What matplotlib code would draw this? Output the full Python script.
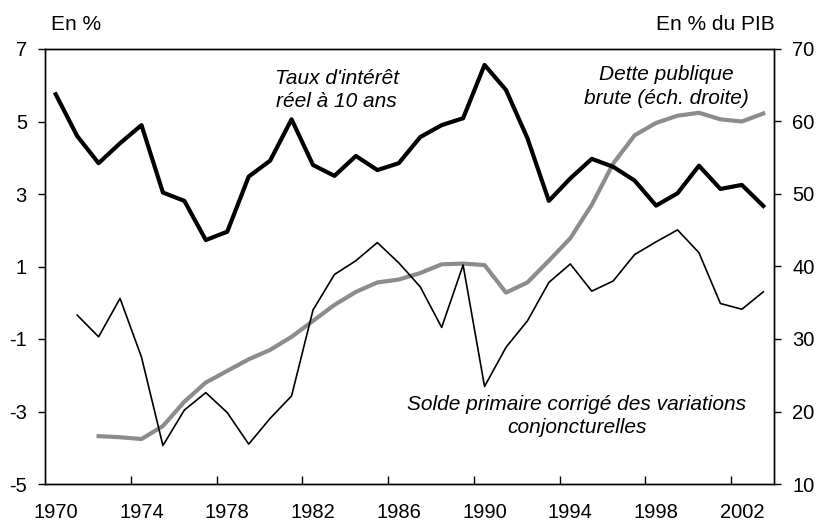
import matplotlib.pyplot as plt
import numpy as np

plt.rcParams['font.family'] = ['Liberation Sans', 'DejaVu Sans']

years = np.arange(1970, 2004)

# real 10-year interest rate, left axis (%)
taux = [5.75, 4.6, 3.85, 4.4, 4.9, 3.04, 2.81, 1.73, 1.96, 3.48,
        3.92, 5.06, 3.8, 3.5, 4.05, 3.66, 3.85, 4.57, 4.9, 5.09,
        6.56, 5.87, 4.54, 2.81, 3.43, 3.97, 3.75, 3.37, 2.68, 3.02,
        3.78, 3.14, 3.25, 2.67]

# cyclically adjusted primary balance, left axis (%), from 1971
solde_years = np.arange(1971, 2004)
solde = [-0.34, -0.94, 0.12, -1.5, -3.94, -2.96, -2.48, -3.03, -3.9,
         -3.19, -2.57, -0.2, 0.78, 1.16, 1.66, 1.1, 0.44, -0.68, 1.04,
         -2.31, -1.23, -0.5, 0.56, 1.07, 0.32, 0.6, 1.33, 1.68, 2.01,
         1.38, -0.02, -0.18, 0.3]

# gross public debt, right axis (% of GDP), from 1972
dette_years = np.arange(1972, 2004)
dette = [16.6, 16.45, 16.2, 18.0, 21.35, 24.0, 25.6, 27.2, 28.5, 30.3,
         32.5, 34.7, 36.5, 37.8, 38.2, 39.1, 40.3, 40.4, 40.2, 36.4,
         37.8, 40.8, 43.9, 48.5, 54.2, 58.1, 59.8, 60.8, 61.2, 60.3,
         60.0, 61.1]

fig = plt.figure(figsize=(8.19, 5.25), dpi=100)
ax = fig.add_axes([45 / 819, 1 - 484 / 525, (774 - 45) / 819, (484 - 49) / 525])
ax2 = ax.twinx()

ax.plot(years + 0.5, taux, color='black', lw=3.0, zorder=3)
ax.plot(solde_years + 0.5, solde, color='black', lw=1.2, zorder=3)
ax2.plot(dette_years + 0.5, dette, color='#8c8c8c', lw=3.0)

ax.set_zorder(ax2.get_zorder() + 1)
ax.patch.set_visible(False)

ax.set_xlim(1970, 2004)
ax.set_ylim(-5, 7)
ax2.set_ylim(10, 70)
ax.set_yticks(np.arange(-5, 8, 2))
ax.set_yticklabels([str(v) for v in np.arange(-5, 8, 2)])
ax2.set_yticks(np.arange(10, 71, 10))

label_years = np.arange(1970, 2004, 4)
ax.set_xticks(label_years + 0.5)
ax.set_xticklabels([str(y) for y in label_years])
ax.set_xticks(label_years[1:], minor=True)
ax.tick_params(axis='x', which='major', length=0, pad=14, labelsize=14.5)
ax.tick_params(axis='x', which='minor', direction='in', length=6, width=1)
ax.tick_params(axis='y', direction='out', length=5, width=1, labelsize=14.5, pad=8)
ax2.tick_params(axis='y', direction='out', length=5, width=1, labelsize=14.5, pad=8)

for a in (ax, ax2):
    for s in a.spines.values():
        s.set_linewidth(1.0)

fig.text(51 / 819, 1 - 24 / 525, 'En %', fontsize=15, va='center', ha='left')
fig.text(775 / 819, 1 - 24 / 525, 'En % du PIB', fontsize=15, va='center', ha='right')

ax.text(1983.6, 5.87, "Taux d'intérêt\nréel à 10 ans", style='italic', fontsize=15,
        ha='center', va='center', linespacing=1.3)
ax2.text(1999.0, 64.8, "Dette publique\nbrute (éch. droite)", style='italic', fontsize=15,
         ha='center', va='center', linespacing=1.3)
ax.text(1994.8, -3.12, "Solde primaire corrigé des variations\nconjoncturelles", style='italic',
        fontsize=15, ha='center', va='center', linespacing=1.3)

fig.savefig('out.png', dpi=100)
